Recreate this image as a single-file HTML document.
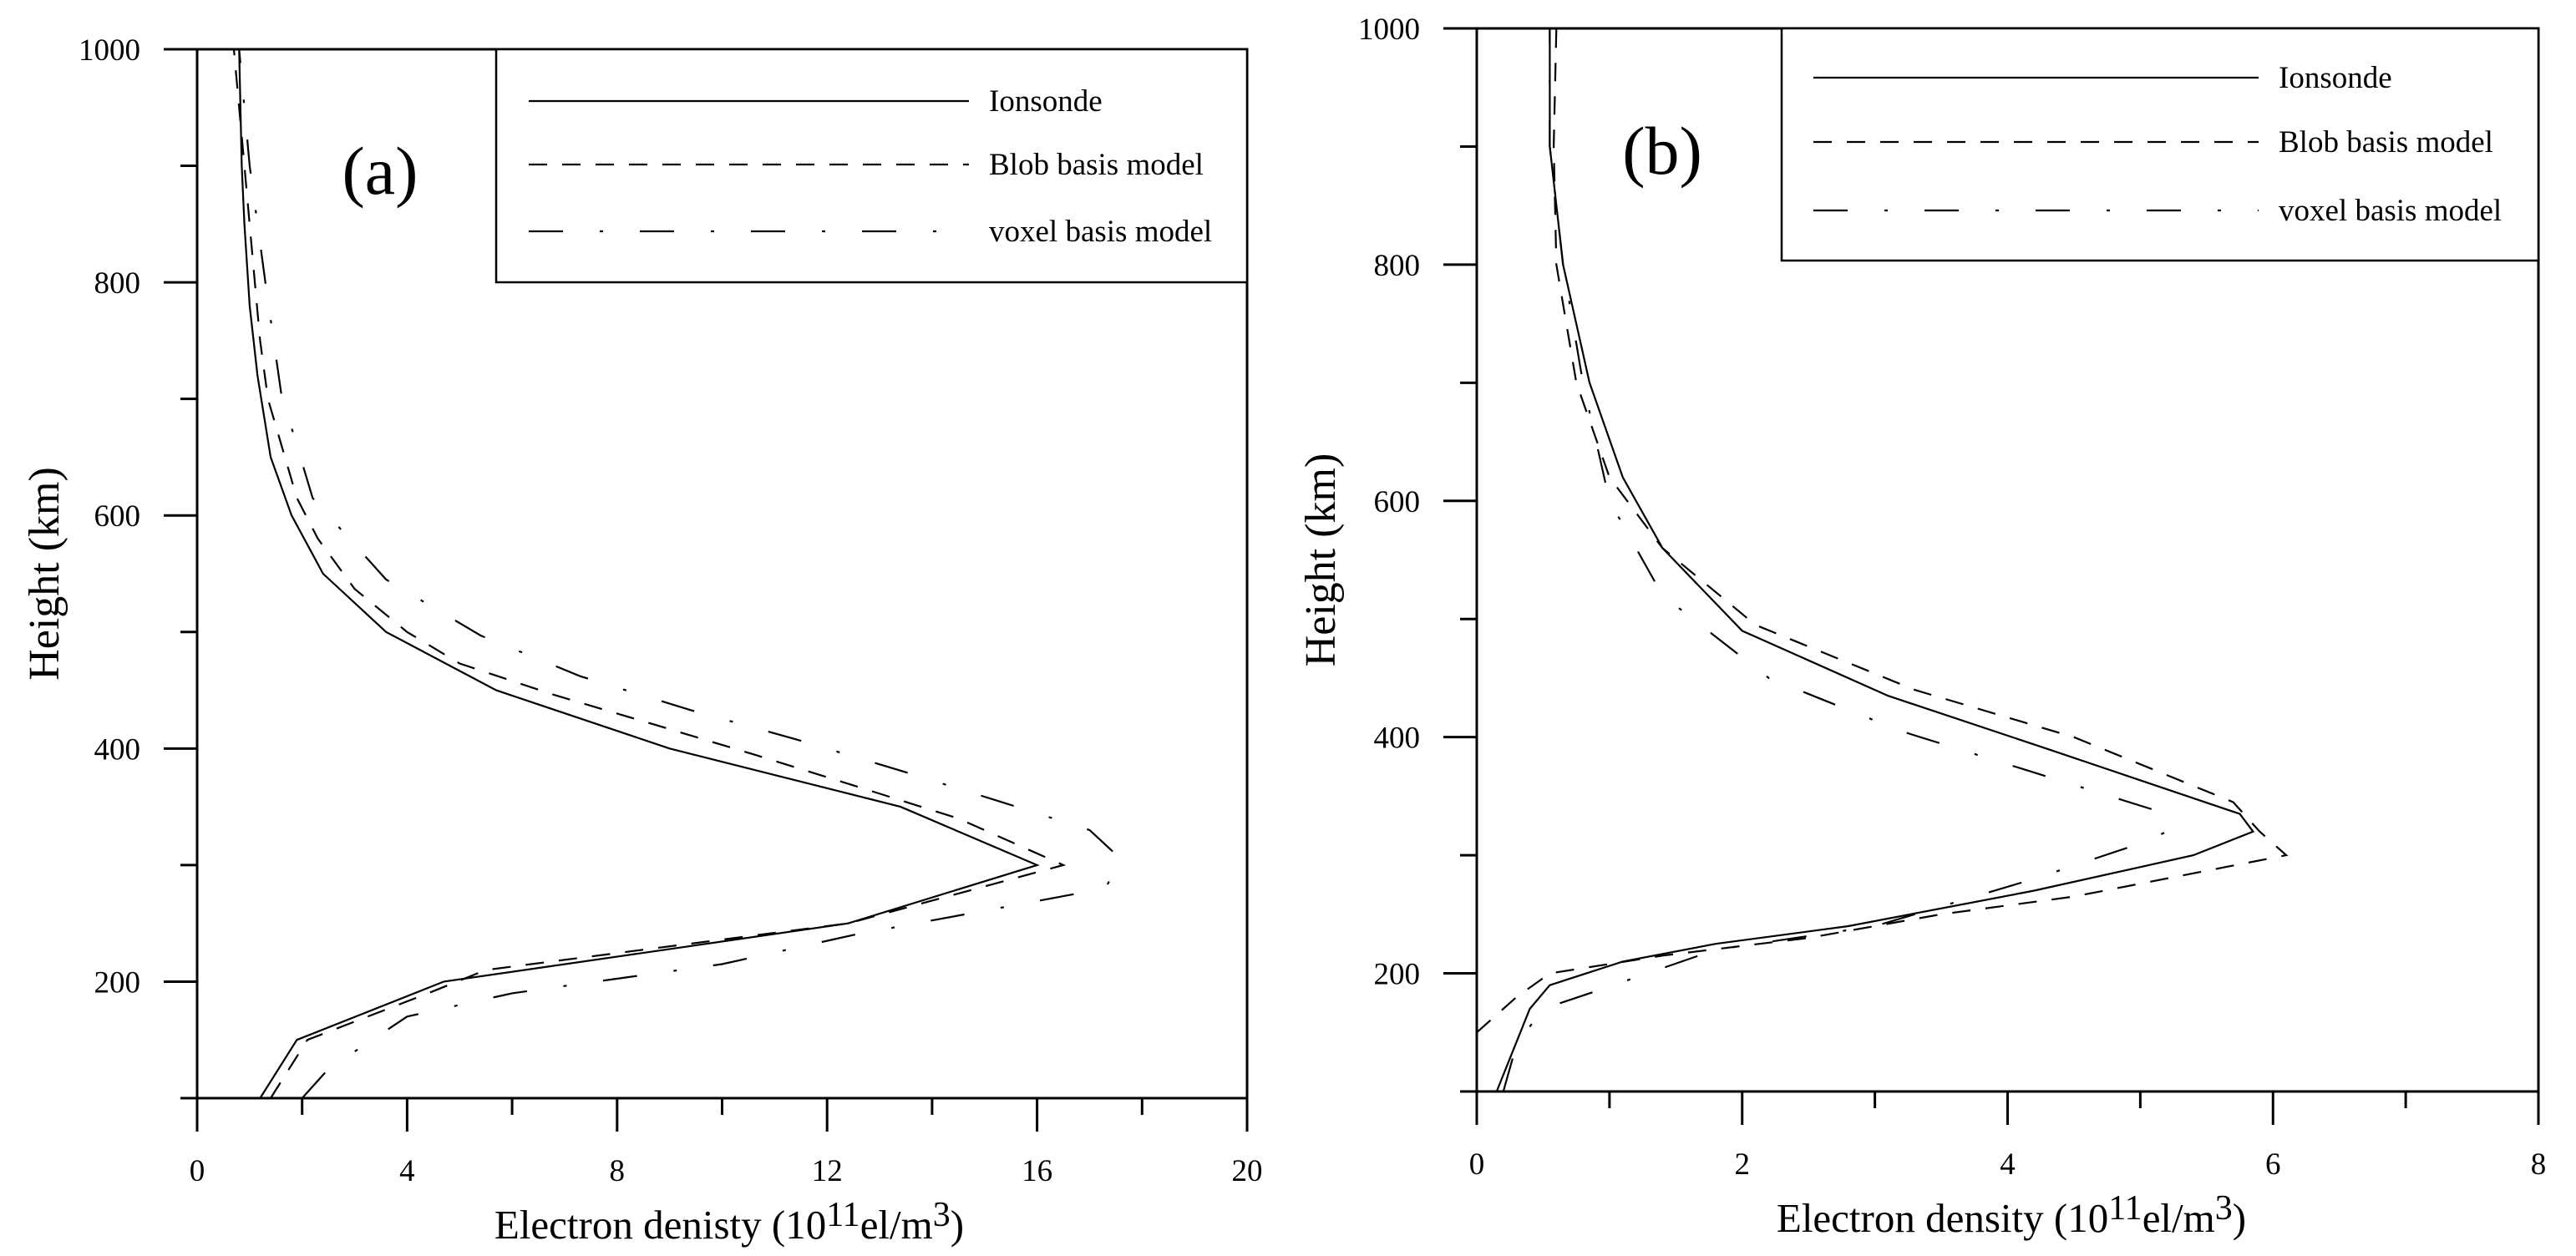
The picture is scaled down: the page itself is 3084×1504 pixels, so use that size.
<!DOCTYPE html>
<html><head><meta charset="utf-8"><style>
html,body{margin:0;padding:0;background:#fff;}
svg{display:block;font-family:"Liberation Serif",serif;}
</style></head><body>
<svg id="chart" width="3084" height="1504" viewBox="0 0 3084 1504" xmlns="http://www.w3.org/2000/svg"></svg>
<script>
// Panel (a) data: [electron density, height]
const aIonX = [1.2,1.9,4.7,12.4,16.0,13.4,9.0,5.7,3.6,2.4,1.8,1.4,1.15,1.0,0.9,0.85,0.8];
const aIonH = [100,150,200,250,300,350,400,450,500,550,600,650,720,780,850,900,1000];
const aBlobX = [1.4,2.1,4.4,5.5,12.4,16.5,14.5,12.6,10.6,8.6,6.8,5.0,4.0,3.0,2.3,1.9,1.35,1.2,1.1,0.9,0.7];
const aBlobH = [100,150,190,210,250,300,340,367,395,422,446,473,500,537,580,615,700,750,800,900,1000];
const aVoxX = [2.0,2.5,4.0,6.0,10.0,12.5,17.3,17.6,17.0,15.4,13.4,11.4,9.4,7.3,5.4,3.6,2.2,1.6,1.3,1.0,0.8];
const aVoxH = [100,125,170,190,215,240,280,305,330,353,381,408,433,462,497,545,615,705,800,900,1000];
// Panel (b) data
const bIonX = [0.15,0.4,0.55,1.1,1.8,2.8,4.2,5.4,5.85,5.75,4.3,3.1,2.0,1.4,1.1,0.85,0.65,0.55,0.55];
const bIonH = [100,170,190,210,225,240,270,300,320,335,390,435,490,560,620,700,800,900,1000];
const bBlobX = [0.0,0.3,0.55,1.4,2.5,3.5,4.5,6.1,5.9,5.7,4.5,3.3,2.1,1.4,1.0,0.75,0.6,0.58,0.6];
const bBlobH = [150,180,200,215,230,250,265,300,320,345,400,440,495,560,620,700,800,900,1000];
const bVoxX = [0.2,0.3,0.5,0.9,1.8,3.0,4.2,5.0,5.2,5.2,4.2,3.2,2.2,1.4,1.0,0.8,0.65,0.55,0.55];
const bVoxH = [100,140,170,185,220,240,280,310,320,335,370,405,450,520,600,700,800,900,1000];
// ticks
const yTickVals = [100,200,300,400,500,600,700,800,900,1000];
const yTickLabels = ["200","400","600","800","1000"];
const aXTicks = [0,2,4,6,8,10,12,14,16,18,20];
const aXLabels = ["0","4","8","12","16","20"];
const bXTicks = [0,1,2,3,4,5,6,7,8];
const bXLabels = ["0","2","4","6","8"];
const legendNames = ["Ionsonde","Blob basis model","voxel basis model"];

const NS="http://www.w3.org/2000/svg";
const svg=document.getElementById('chart');
function mk(tag,attrs,parent){const e=document.createElementNS(NS,tag);for(const k in attrs)e.setAttribute(k,attrs[k]);(parent||svg).appendChild(e);return e;}
const styles=[{},{"stroke-dasharray":"22 18"},{"stroke-dasharray":"41 44 4 44"}];

function panel(p){
  const g=mk('g',{});
  
  
  const sx=v=>p.L+(v-p.xmin)/(p.xmax-p.xmin)*(p.R-p.L);
  const sy=v=>p.B-(v-100)/900*(p.B-p.T);
  const fr=mk('rect',{x:p.L,y:p.T,width:p.R-p.L,height:p.B-p.T,fill:'none',stroke:'#000','stroke-width':3},g);
  
  
  yTickVals.forEach(v=>{const major=v%200===0;const y=sy(v);
    const t=mk('line',{x1:p.L-(major?40:20),x2:p.L,y1:y,y2:y,stroke:'#000','stroke-width':3},g);
    
    
    if(major){const tx=mk('text',{x:p.L-68,y:y+13,'text-anchor':'end','font-size':37},g);tx.textContent=yTickLabels[v/200-1];
      
      }
  });
  p.xticks.forEach((v,i)=>{const major=i%2===0;const x=sx(v);
    const t=mk('line',{x1:x,x2:x,y1:p.B,y2:p.B+(major?40:20),stroke:'#000','stroke-width':3},g);
    
    
    if(major){const tx=mk('text',{x:x,y:p.B+99,'text-anchor':'middle','font-size':37},g);tx.textContent=p.xlabels[i/2];
      
      }
  });
  const xt=mk('text',{x:p.xtX,y:p.B+168,'text-anchor':'middle','font-size':49},g);
  xt.innerHTML=p.xtitle+' (10<tspan dy="-15" font-size="42">11</tspan><tspan dy="15">el/m</tspan><tspan dy="-15" font-size="42">3</tspan><tspan dy="15">)</tspan>';
  
  
  const yc=(p.T+p.B)/2;
  const yt=mk('text',{x:p.ytX,y:yc,'text-anchor':'middle','font-size':52,transform:`rotate(-90 ${p.ytX} ${yc})`},g);
  yt.textContent='Height (km)';
  
  
  p.series.forEach((s,i)=>{
    const d=s[0].map((x,j)=>(j?'L':'M')+sx(x).toFixed(1)+' '+sy(s[1][j]).toFixed(1)).join(' ');
    const a=Object.assign({d:d,fill:'none',stroke:'#000','stroke-width':2.2},styles[i]);
    const path=mk('path',a,g);
    
    
  });
  const lg=mk('g',{},g);
  
  
  mk('rect',{x:p.lgL,y:p.T,width:p.R-p.lgL,height:p.lgB-p.T,fill:'#fff',stroke:'#000','stroke-width':2.5},lg);
  legendNames.forEach((n,i)=>{const y=p.lgY[i];
    const e=mk('g',{},lg);
    
    
    mk('line',Object.assign({x1:p.lgX1,x2:p.lgX2,y1:y,y2:y,stroke:'#000','stroke-width':2.2},styles[i]),e);
    const t=mk('text',{x:p.lgX2+24,y:y+12,'font-size':37},e);t.textContent=n;});
  const lab=mk('text',{x:p.labX,y:p.labY,'font-size':82,'text-anchor':'middle'},g);
  lab.textContent=p.label;
  
  
}
panel({id:'a',L:236,R:1493,T:59,B:1315,xmin:0,xmax:20,xticks:aXTicks,xlabels:aXLabels,
  xtitle:'Electron denisty',xtX:873,ytX:70,
  series:[[aIonX,aIonH],[aBlobX,aBlobH],[aVoxX,aVoxH]],
  lgL:594,lgB:338,lgY:[121,197,277],lgX1:633,lgX2:1160,labX:455,labY:232,label:'(a)'});
panel({id:'b',L:1768,R:3039,T:34,B:1307,xmin:0,xmax:8,xticks:bXTicks,xlabels:bXLabels,
  xtitle:'Electron density',xtX:2408,ytX:1598,
  series:[[bIonX,bIonH],[bBlobX,bBlobH],[bVoxX,bVoxH]],
  lgL:2133,lgB:312,lgY:[93,170,252],lgX1:2171,lgX2:2704,labX:1990,labY:208,label:'(b)'});
</script>
</body></html>
